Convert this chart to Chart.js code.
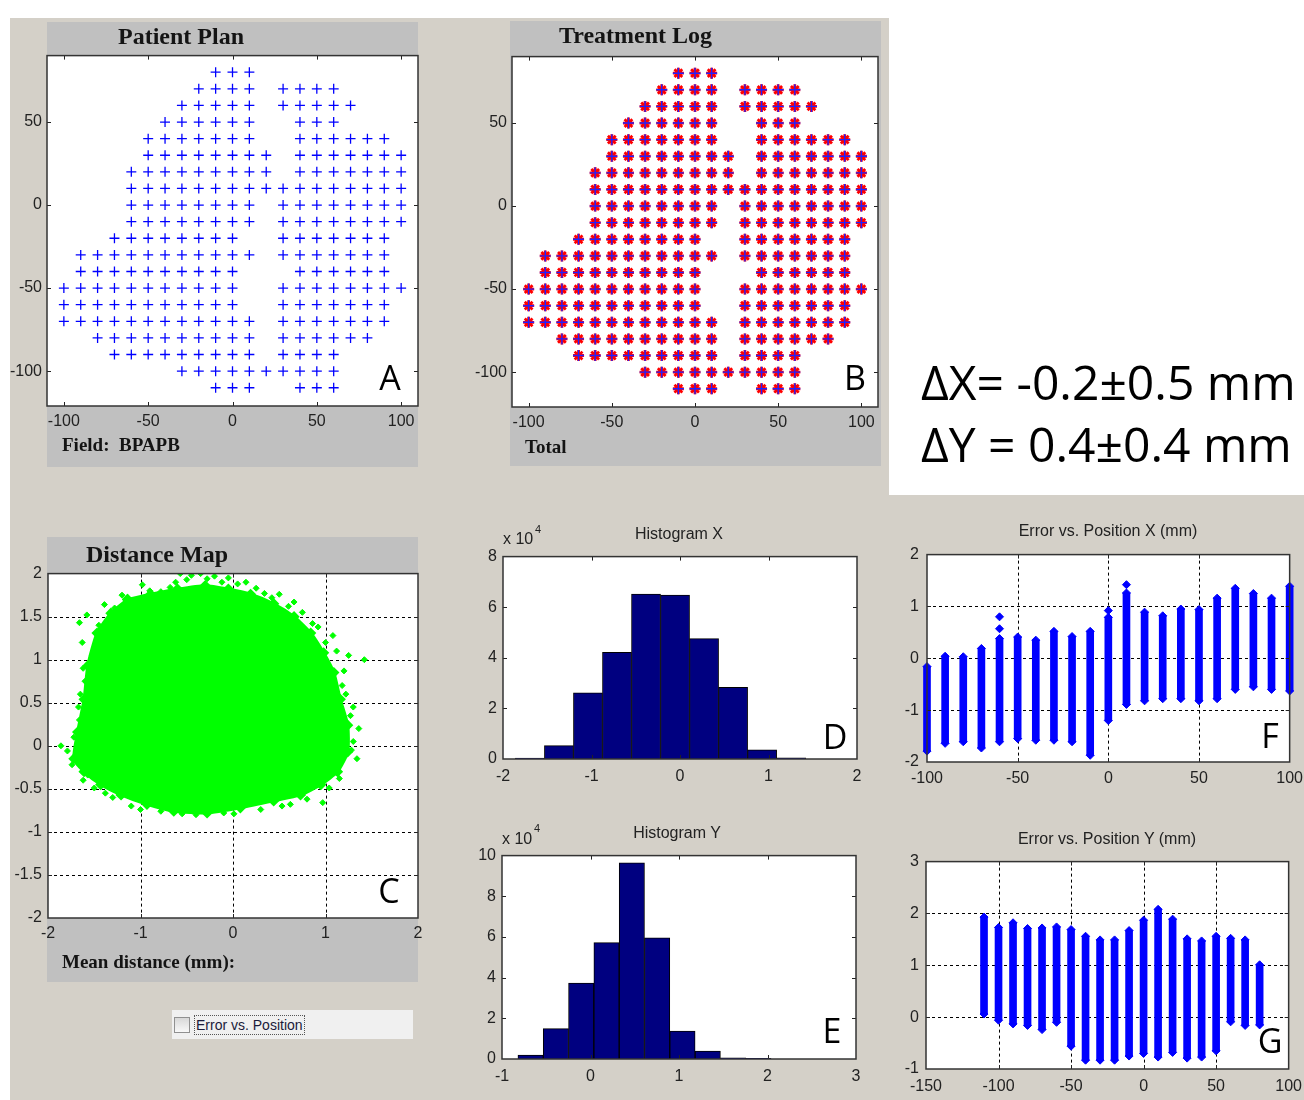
<!DOCTYPE html>
<html><head><meta charset="utf-8">
<script src="https://cdn.jsdelivr.net/npm/chart.js@4/dist/chart.umd.min.js"></script>
<style>
html,body{margin:0;padding:0;width:1304px;height:1100px;overflow:hidden;background:#fff;}
#bg{position:absolute;left:10px;top:18px;width:1294px;height:1082px;background:#d4d0c8;}
#white{position:absolute;left:889px;top:0;width:415px;height:495px;background:#fff;}
.panel{position:absolute;background:#c0c0c0;}
canvas{position:absolute;z-index:2;}
#txt{position:absolute;left:0;top:0;z-index:5;pointer-events:none;}
</style></head><body>
<div id="bg"></div><div id="white"></div>
<div class="panel" style="left:47px;top:22px;width:371px;height:445px"></div>
<div class="panel" style="left:510px;top:21px;width:371px;height:445px"></div>
<div class="panel" style="left:47px;top:537px;width:371px;height:445px"></div>
<div style="position:absolute;left:172px;top:1010px;width:241px;height:29px;background:#f0f0f0;z-index:1"></div>
<div style="position:absolute;left:174px;top:1017px;width:14px;height:14px;border:1px solid #909090;background:linear-gradient(#d8d8d8,#f8f8f8);z-index:2"></div>
<div style="position:absolute;left:194px;top:1015px;height:18px;padding:0 1px;border:1px dotted #555;font:14px 'Liberation Sans',Arial,sans-serif;line-height:18px;color:#1a1a3a;z-index:2">Error vs. Position</div>
<div id="charts"></div>
<svg id="txt" width="1304" height="1100">
 <g font-family="'Liberation Serif','Times New Roman',serif" font-weight="bold" fill="#141414">
  <text x="118" y="44" font-size="24">Patient Plan</text>
  <text x="559" y="43" font-size="24">Treatment Log</text>
  <text x="86" y="562" font-size="24">Distance Map</text>
  <text x="62" y="451" font-size="19" xml:space="preserve">Field:  BPAPB</text>
  <text x="525" y="453" font-size="19">Total</text>
  <text x="62" y="968" font-size="19">Mean distance (mm):</text>
 </g>
 <g font-family="'Liberation Sans',Arial,sans-serif" font-size="16" fill="#222">
  <text x="679" y="539" text-anchor="middle">Histogram X</text>
  <text x="503" y="544">x 10</text><text x="535" y="533" font-size="11">4</text>
  <text x="677" y="838" text-anchor="middle">Histogram Y</text>
  <text x="502" y="844">x 10</text><text x="534" y="832" font-size="11">4</text>
  <text x="1108" y="536" text-anchor="middle">Error vs. Position X (mm)</text>
  <text x="1107" y="844" text-anchor="middle">Error vs. Position Y (mm)</text>
 </g>
 <g font-family="'Open Sans',sans-serif" font-size="34" fill="#000" text-anchor="middle">
  <text x="390" y="390">A</text>
  <text x="855" y="390">B</text>
  <text x="389" y="903">C</text>
  <text x="835" y="749">D</text>
  <text x="832" y="1043">E</text>
  <text x="1270" y="748">F</text>
  <text x="1270" y="1053">G</text>
 </g>
 <g font-family="'Open Sans',sans-serif" font-size="48" fill="#000">
  <text x="921" y="400">ΔX= -0.2±0.5 mm</text>
  <text x="921" y="462">ΔY = 0.4±0.4 mm</text>
 </g>
</svg>
<script>
// ---------- DATA ----------
// Spot grid (mm): rows of y with x positions of planned spots
const spotRowsY = [80,70,60,50,40,30,20,10,0,-10,-20,-30,-40,-50,-60,-70,-80,-90,-100,-110];
const spotRowsX = [
  [-10,0,10],
  [-20,-10,0,10,30,40,50,60],
  [-30,-20,-10,0,10,30,40,50,60,70],
  [-40,-30,-20,-10,0,10,40,50,60],
  [-50,-40,-30,-20,-10,0,10,40,50,60,70,80,90],
  [-50,-40,-30,-20,-10,0,10,20,40,50,60,70,80,90,100],
  [-60,-50,-40,-30,-20,-10,0,10,20,40,50,60,70,80,90,100],
  [-60,-50,-40,-30,-20,-10,0,10,20,30,40,50,60,70,80,90,100],
  [-60,-50,-40,-30,-20,-10,0,10,30,40,50,60,70,80,90,100],
  [-60,-50,-40,-30,-20,-10,0,10,30,40,50,60,70,80,90,100],
  [-70,-60,-50,-40,-30,-20,-10,0,30,40,50,60,70,80,90],
  [-90,-80,-70,-60,-50,-40,-30,-20,-10,0,10,30,40,50,60,70,80,90],
  [-90,-80,-70,-60,-50,-40,-30,-20,-10,0,40,50,60,70,80,90],
  [-100,-90,-80,-70,-60,-50,-40,-30,-20,-10,0,30,40,50,60,70,80,90,100],
  [-100,-90,-80,-70,-60,-50,-40,-30,-20,-10,0,30,40,50,60,70,80,90],
  [-100,-90,-80,-70,-60,-50,-40,-30,-20,-10,0,10,30,40,50,60,70,80,90],
  [-80,-70,-60,-50,-40,-30,-20,-10,0,10,30,40,50,60,70,80],
  [-70,-60,-50,-40,-30,-20,-10,0,10,30,40,50,60],
  [-30,-20,-10,0,10,20,30,40,50,60],
  [-10,0,10,40,50,60]
];
const spotTicksX = [-100,-50,0,50,100];
const spotTicksY = [-100,-50,0,50];

// Distance map: dense cloud outline (mm) and sparse edge points
const cloudX = [-1.14,-0.89,-0.6,-0.3,-0.05,0.19,0.44,0.66,0.84,0.98,1.09,1.16,1.24,1.24,1.13,0.95,0.73,0.44,0.08,-0.28,-0.64,-0.93,-1.21,-1.43,-1.61,-1.72,-1.68,-1.61,-1.57,-1.47,-1.32,-1.14];
const cloudY = [1.70,1.76,1.82,1.86,1.82,1.76,1.65,1.50,1.31,1.08,0.85,0.54,0.24,-0.07,-0.30,-0.45,-0.57,-0.64,-0.72,-0.78,-0.76,-0.68,-0.57,-0.45,-0.30,-0.15,0.16,0.54,0.93,1.31,1.54,1.70];
const edgeX = [-0.57,-0.45,-0.35,-0.2,-0.05,0.14,0.34,0.5,0.66,0.86,0.92,1.08,1.2,1.25,1.42,1.27,1.36,1.34,1.3,1.2,1.04,0.97,0.53,0.01,-0.55,-0.78,-1.3,-1.5,-1.57,-1.74,-1.79,-1.86,-1.66,-1.63,-1.66,-1.58,-1.39,-0.98,-0.78,-1.2,-1.65,-1.62,
  -0.5,-0.62,-0.28,-0.12,0.05,0.25,0.42,0.6,0.75,1.0,1.12,1.18,1.22,1.3,1.28,1.15,0.8,0.62,0.3,-0.1,-0.4,-1.0,-1.1,-1.38,-1.62,-1.7,-1.72,-1.67,-1.6,-1.52,-1.45,-1.28,-0.9,-0.68];
const edgeY = [2.0,1.98,2.0,1.97,1.95,1.9,1.77,1.76,1.67,1.42,1.38,1.28,0.87,1.05,1.0,0.35,0.2,-0.15,0.05,0.08,-0.49,-0.66,-0.7,-0.79,-0.79,-0.76,-0.6,-0.49,-0.34,-0.22,-0.06,0.0,0.3,1.2,1.43,1.52,1.64,1.87,1.79,1.75,0.6,0.9,
  1.93,1.9,1.94,1.9,1.88,1.83,1.72,1.62,1.55,1.2,1.1,0.7,0.6,0.45,-0.05,-0.38,-0.62,-0.68,-0.74,-0.78,-0.8,-0.74,-0.7,-0.55,-0.4,-0.12,0.1,0.45,0.75,1.05,1.4,1.6,1.8,1.84];
const distTicksX = [-2,-1,0,1,2];
const distTicksY = [-2,-1.5,-1,-0.5,0,0.5,1,1.5,2];

// Histograms (counts in units of 10^4)
const histXCenters = [-1.696,-1.368,-1.040,-0.712,-0.384,-0.056,0.272,0.600,0.928,1.256];
const histXCounts  = [0.04,0.53,2.62,4.22,6.52,6.48,4.76,2.83,0.36,0.05];
const histXTicksX = [-2,-1,0,1,2];
const histXTicksY = [0,2,4,6,8];
const histYCenters = [-0.677,-0.391,-0.105,0.181,0.467,0.753,1.039,1.325,1.611,1.897];
const histYCounts  = [0.19,1.49,3.73,5.72,9.65,5.96,1.37,0.39,0.06,0.03];
const histYTicksX = [-1,0,1,2,3];
const histYTicksY = [0,2,4,6,8,10];

// Error vs position X
const posX = [-100,-90,-80,-70,-60,-50,-40,-30,-20,-10,0,10,20,30,40,50,60,70,80,90,100];
const errXTop    = [-0.16,0.04,0.03,0.19,0.38,0.41,0.35,0.52,0.42,0.52,0.79,1.26,0.89,0.82,0.95,0.94,1.16,1.35,1.25,1.16,1.39];
const errXBottom = [-1.79,-1.64,-1.61,-1.73,-1.61,-1.55,-1.58,-1.58,-1.61,-1.87,-1.20,-0.89,-0.82,-0.78,-0.78,-0.82,-0.78,-0.60,-0.55,-0.60,-0.63];
const errXOutPos = [-60,-60,0,10];
const errXOutVal = [0.57,0.80,0.92,1.42];
const errXTicksX = [-100,-50,0,50,100];
const errXTicksY = [-2,-1,0,1,2];

// Error vs position Y
const posY = [-110,-100,-90,-80,-70,-60,-50,-40,-30,-20,-10,0,10,20,30,40,50,60,70,80];
const errYTop    = [1.93,1.73,1.82,1.71,1.72,1.74,1.69,1.56,1.49,1.49,1.67,1.87,2.08,1.89,1.51,1.47,1.56,1.52,1.49,1.01];
const errYBottom = [0.06,-0.06,-0.13,-0.16,-0.24,-0.10,-0.56,-0.83,-0.83,-0.83,-0.75,-0.70,-0.77,-0.68,-0.79,-0.77,-0.65,-0.09,-0.16,-0.15];
const errYTicksX = [-150,-100,-50,0,50,100];
const errYTicksY = [-1,0,1,2,3];

// ---------- DRAWING ----------
const FONT = {family:"'Liberation Sans', Arial, sans-serif", size:16};
const TICKCOLOR = '#222';

const mbox = {
  id:'mbox',
  defaults:{grid:false},
  beforeDraw(chart){
    const {ctx, chartArea:a} = chart;
    ctx.save(); ctx.fillStyle='#fff'; ctx.fillRect(a.left,a.top,a.right-a.left,a.bottom-a.top); ctx.restore();
  },
  beforeDatasetsDraw(chart, args, o){
    if(!o.grid) return;
    const {ctx, chartArea:a, scales} = chart;
    ctx.save(); ctx.strokeStyle='#000'; ctx.lineWidth=1; ctx.setLineDash([3,3]);
    scales.x.ticks.forEach(t=>{
      const p = Math.round(scales.x.getPixelForValue(t.value))+0.5;
      if(p<=a.left+2||p>=a.right-2) return;
      ctx.beginPath(); ctx.moveTo(p,a.top); ctx.lineTo(p,a.bottom); ctx.stroke();
    });
    scales.y.ticks.forEach(t=>{
      const p = Math.round(scales.y.getPixelForValue(t.value))+0.5;
      if(p<=a.top+2||p>=a.bottom-2) return;
      ctx.beginPath(); ctx.moveTo(a.left,p); ctx.lineTo(a.right,p); ctx.stroke();
    });
    ctx.restore();
  },
  afterDatasetsDraw(chart){
    const {ctx, chartArea:a, scales} = chart;
    ctx.save(); ctx.strokeStyle='#222'; ctx.lineWidth=1;
    scales.x.ticks.forEach(t=>{
      const p = Math.round(scales.x.getPixelForValue(t.value))+0.5;
      if(p<=a.left+2||p>=a.right-2) return;
      ctx.beginPath(); ctx.moveTo(p,a.bottom); ctx.lineTo(p,a.bottom-4); ctx.moveTo(p,a.top); ctx.lineTo(p,a.top+4); ctx.stroke();
    });
    scales.y.ticks.forEach(t=>{
      const p = Math.round(scales.y.getPixelForValue(t.value))+0.5;
      if(p<=a.top+2||p>=a.bottom-2) return;
      ctx.beginPath(); ctx.moveTo(a.left,p); ctx.lineTo(a.left+4,p); ctx.moveTo(a.right,p); ctx.lineTo(a.right-4,p); ctx.stroke();
    });
    ctx.strokeStyle='#333'; ctx.lineWidth=1.5;
    ctx.strokeRect(a.left,a.top,a.right-a.left,a.bottom-a.top);
    ctx.restore();
  }
};
Chart.register(mbox);

function axis(pos, min, max, ticks, size, padding){
  return {
    type:'linear', position:pos, min, max, offset:false,
    grid:{display:false, drawTicks:false, tickLength:0}, border:{display:false},
    ticks:{font:FONT, color:TICKCOLOR, padding, autoSkip:false, maxRotation:0, minRotation:0, callback:v=>String(v)},
    afterBuildTicks:s=>{ s.ticks = ticks.map(v=>({value:v})); },
    afterFit:s=>{ if(pos==='left') s.width=size; else s.height=size; }
  };
}

function makeChart(plot, pad, type, datasets, xs, ys, mopts){
  const W = plot.R-plot.L+pad.l+pad.r, H = plot.B-plot.T+pad.t+pad.b;
  const cv = document.createElement('canvas');
  cv.width=W; cv.height=H;
  cv.style.left=(plot.L-pad.l)+'px'; cv.style.top=(plot.T-pad.t)+'px';
  cv.style.width=W+'px'; cv.style.height=H+'px';
  document.getElementById('charts').appendChild(cv);
  return new Chart(cv, {
    type, data:{datasets},
    options:{
      responsive:false, animation:false, devicePixelRatio:1,
      layout:{padding:{left:0, top:pad.t, right:pad.r, bottom:0}},
      plugins:{legend:{display:false}, tooltip:{enabled:false}, mbox:mopts||{}},
      scales:{x:axis('bottom',xs[0],xs[1],xs[2],pad.b,xs[3]), y:axis('left',ys[0],ys[1],ys[2],pad.l,ys[3])}
    }
  });
}

const spotPts = spotRowsY.flatMap((y,i)=>spotRowsX[i].map(x=>({x,y})));
const PAD = {l:40,t:12,r:20,b:30};

// A: Patient plan
makeChart({L:47,T:53,R:418,B:406}, PAD, 'scatter', [
  {data:spotPts, pointStyle:'cross', pointRadius:5, borderColor:'#0000ff', backgroundColor:'#0000ff', pointBorderWidth:1.3}
], [-110,110,spotTicksX,6], [-121,90,spotTicksY,5]);

// B: Treatment log
makeChart({L:512,T:54,R:878,B:407}, PAD, 'scatter', [
  {data:spotPts, pointStyle:'cross', pointRadius:5.5, borderColor:'#2020ff', backgroundColor:'#2020ff', pointBorderWidth:1.4},
  {data:spotPts, pointStyle:'star', pointRadius:5.5, borderColor:'#ff0000', backgroundColor:'#ff0000', pointBorderWidth:2.8}
], [-110,110,spotTicksX,6], [-121,90,spotTicksY,5]);

// C: Distance map
const cloudPts = cloudX.map((x,i)=>({x, y:cloudY[i]}));
const edgePts = edgeX.map((x,i)=>({x, y:edgeY[i]}));
makeChart({L:48,T:570,R:418,B:918}, PAD, 'scatter', [
  {type:'line', data:cloudPts, showLine:true, fill:'shape', backgroundColor:'#00ff00', borderColor:'#00ff00', borderWidth:3,
   pointStyle:'rectRot', pointRadius:3.5, pointBackgroundColor:'#00ff00', pointBorderColor:'#00ff00', tension:0.2},
  {data:edgePts, pointStyle:'rectRot', pointRadius:3, backgroundColor:'#00ff00', borderColor:'#00ff00'}
], [-2,2,distTicksX,6], [-2,2,distTicksY,6], {grid:true});

// D: Histogram X
makeChart({L:503,T:553,R:857,B:759}, PAD, 'bar', [
  {data:histXCenters.map((x,i)=>({x, y:histXCounts[i]})), backgroundColor:'#000080', borderColor:'#000', borderWidth:1,
   categoryPercentage:1, barPercentage:1}
], [-2,2,histXTicksX,8], [0,8,histXTicksY,6]);

// E: Histogram Y
makeChart({L:502,T:852,R:856,B:1059}, PAD, 'bar', [
  {data:histYCenters.map((x,i)=>({x, y:histYCounts[i]})), backgroundColor:'#000080', borderColor:'#000', borderWidth:1,
   categoryPercentage:1, barPercentage:1}
], [-1,3,histYTicksX,8], [0,10,histYTicksY,6]);

// F: Error vs position X
const capsF = posX.flatMap((x,i)=>[{x,y:errXTop[i]},{x,y:errXBottom[i]}]).concat(errXOutPos.map((x,i)=>({x,y:errXOutVal[i]})));
makeChart({L:927,T:549,R:1290,B:762}, PAD, 'bar', [
  {data:posX.map((x,i)=>({x, y:[errXBottom[i], errXTop[i]]})), backgroundColor:'#0000ff', borderWidth:0, barThickness:7, clip:false},
  {type:'scatter', data:capsF, pointStyle:'rectRot', pointRadius:4, backgroundColor:'#0000ff', borderColor:'#0000ff', clip:false}
], [-100,100,errXTicksX,7], [-2,2,errXTicksY,8], {grid:true});

// G: Error vs position Y
const capsG = posY.flatMap((x,i)=>[{x,y:errYTop[i]},{x,y:errYBottom[i]}]);
makeChart({L:926,T:857,R:1290,B:1069}, PAD, 'bar', [
  {data:posY.map((x,i)=>({x, y:[errYBottom[i], errYTop[i]]})), backgroundColor:'#0000ff', borderWidth:0, barThickness:7},
  {type:'scatter', data:capsG, pointStyle:'rectRot', pointRadius:4, backgroundColor:'#0000ff', borderColor:'#0000ff'}
], [-150,100,errYTicksX,8], [-1,3,errYTicksY,7], {grid:true});
</script>
</body></html>
